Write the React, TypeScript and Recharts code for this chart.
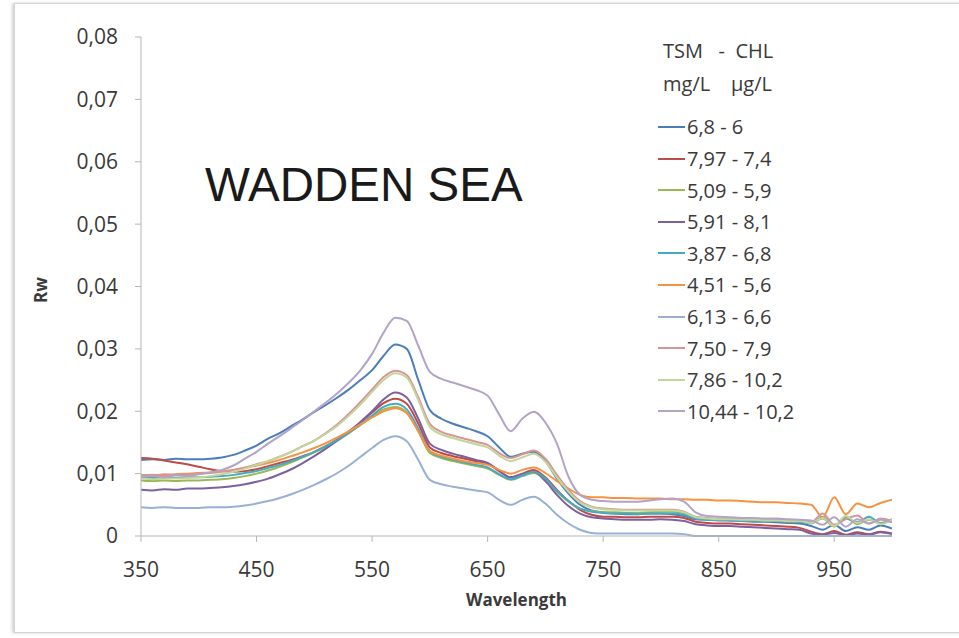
import React from "react";
import { LineChart, Line, XAxis, YAxis, Legend } from "recharts";

// wavelength (nm), one reading every 10 nm
const wavelengths = [
  350, 360, 370, 380, 390, 400, 410, 420, 430, 440, 450, 460, 470, 480, 490, 500, 510,
  520, 530, 540, 550, 560, 570, 580, 590, 600, 610, 620, 630, 640, 650, 660, 670, 680,
  690, 700, 710, 720, 730, 740, 750, 760, 770, 780, 790, 800, 810, 820, 830, 840, 850,
  860, 870, 880, 890, 900, 910, 920, 930, 940, 950, 960, 970, 980, 990, 1000,
];

const s68_6 = [
  0.0122, 0.0123, 0.0122, 0.0124, 0.0123, 0.0123, 0.0124, 0.0126, 0.013, 0.0137, 0.0145,
  0.0156, 0.0165, 0.0176, 0.0187, 0.0199, 0.021, 0.0222, 0.0235, 0.025, 0.0266, 0.0289,
  0.0307, 0.03, 0.025, 0.0202, 0.0188, 0.018, 0.0174, 0.0168, 0.016, 0.0142, 0.0127,
  0.0132, 0.0135, 0.012, 0.0092, 0.0068, 0.005, 0.0041, 0.0038, 0.0036, 0.0035, 0.0035,
  0.0036, 0.0036, 0.0035, 0.0032, 0.0027, 0.0026, 0.0025, 0.0025, 0.0024, 0.0023, 0.0023,
  0.0022, 0.0021, 0.002, 0.0016, 0.001, 0.0018, 0.0008, 0.0014, 0.001, 0.0017, 0.0012,
];
const s797_74 = [
  0.0125, 0.0124, 0.0121, 0.0118, 0.0115, 0.0111, 0.0107, 0.0104, 0.0103, 0.0104, 0.0107,
  0.0112, 0.0117, 0.0122, 0.0128, 0.0135, 0.0144, 0.0155, 0.0168, 0.0182, 0.0198, 0.0213,
  0.022, 0.0212, 0.018, 0.0142, 0.0133, 0.0128, 0.0124, 0.012, 0.0116, 0.0104, 0.0094,
  0.01, 0.0106, 0.0094, 0.0074, 0.0056, 0.0042, 0.0034, 0.0031, 0.0031, 0.003, 0.003,
  0.0031, 0.0031, 0.0031, 0.0029, 0.0023, 0.0021, 0.002, 0.002, 0.0019, 0.0018, 0.0017,
  0.0016, 0.0015, 0.0013, 0.0007, 0.0003, 0.0008, 0.0002, 0.0006, 0.0003, 0.0007, 0.0004,
];
const s509_59 = [
  0.0089, 0.0088, 0.0089, 0.0088, 0.0089, 0.0089, 0.009, 0.0091, 0.0093, 0.0096, 0.01,
  0.0105, 0.0111, 0.0118, 0.0126, 0.0134, 0.0143, 0.0153, 0.0165, 0.0178, 0.0191, 0.0203,
  0.0207, 0.0198, 0.0168, 0.0133, 0.0125, 0.012, 0.0116, 0.0112, 0.0108, 0.0098, 0.009,
  0.0096, 0.0101, 0.009, 0.0071, 0.0055, 0.0044, 0.004, 0.0038, 0.0038, 0.0037, 0.0037,
  0.0038, 0.0039, 0.0039, 0.0037, 0.0029, 0.0027, 0.0026, 0.0026, 0.0025, 0.0025, 0.0024,
  0.0024, 0.0023, 0.0023, 0.002, 0.0028, 0.0015, 0.003, 0.0019, 0.0026, 0.0021, 0.0027,
];
const s591_81 = [
  0.0074, 0.0073, 0.0075, 0.0074, 0.0076, 0.0076, 0.0077, 0.0078, 0.008, 0.0083, 0.0087,
  0.0092, 0.0099, 0.0107, 0.0117, 0.0128, 0.014, 0.0153, 0.0167, 0.0183, 0.02, 0.0219,
  0.023, 0.0222, 0.0188, 0.0148, 0.0138, 0.0132, 0.0127, 0.0122, 0.0117, 0.0105, 0.0094,
  0.0099, 0.0103, 0.0088, 0.0066, 0.0048, 0.0036, 0.003, 0.0028, 0.0027, 0.0026, 0.0026,
  0.0026, 0.0027, 0.0026, 0.0024, 0.0019, 0.0017, 0.0016, 0.0016, 0.0015, 0.0014, 0.0013,
  0.0012, 0.0011, 0.001, 0.0004, 0.0002, 0.0005, 0.0001, 0.0004, 0.0002, 0.0006, 0.0003,
];
const s387_68 = [
  0.0094, 0.0093, 0.0094, 0.0093, 0.0094, 0.0094, 0.0095, 0.0096, 0.0098, 0.0101, 0.0104,
  0.0109, 0.0114, 0.012, 0.0127, 0.0135, 0.0144, 0.0154, 0.0166, 0.0179, 0.0193, 0.0207,
  0.0212, 0.0203, 0.0172, 0.0136, 0.0127, 0.0122, 0.0118, 0.0114, 0.011, 0.0099, 0.0091,
  0.0097, 0.0103, 0.0092, 0.0072, 0.0056, 0.0044, 0.0039, 0.0037, 0.0036, 0.0036, 0.0035,
  0.0036, 0.0036, 0.0036, 0.0034, 0.0028, 0.0026, 0.0026, 0.0025, 0.0025, 0.0025, 0.0024,
  0.0024, 0.0024, 0.0023, 0.0021, 0.003, 0.0017, 0.0028, 0.0022, 0.0031, 0.002, 0.0026,
];
const s451_56 = [
  0.0097, 0.0098, 0.0097, 0.0099, 0.01, 0.0101, 0.0102, 0.0104, 0.0106, 0.0109, 0.0113,
  0.0117, 0.0122, 0.0128, 0.0134, 0.0141, 0.0149, 0.0158, 0.0168, 0.0179, 0.019, 0.02,
  0.0205, 0.0197, 0.0168, 0.0136, 0.0129, 0.0124, 0.012, 0.0117, 0.0114, 0.0106, 0.01,
  0.0106, 0.011, 0.0101, 0.0088, 0.0076, 0.0066, 0.0062, 0.0062, 0.0061, 0.0061, 0.006,
  0.006, 0.006, 0.0059, 0.0059, 0.0058, 0.0058, 0.0057, 0.0057, 0.0056, 0.0055, 0.0054,
  0.0054, 0.0053, 0.0052, 0.005, 0.003, 0.0062, 0.0035, 0.0052, 0.0046, 0.0053, 0.0058,
];
const s613_66 = [
  0.0046, 0.0045, 0.0046, 0.0045, 0.0045, 0.0045, 0.0046, 0.0046, 0.0047, 0.0049, 0.0052,
  0.0056, 0.0061, 0.0067, 0.0074, 0.0082, 0.0091, 0.0101, 0.0113, 0.0127, 0.0141, 0.0154,
  0.016, 0.0152, 0.0122, 0.009, 0.0083, 0.0079, 0.0076, 0.0073, 0.007, 0.0058, 0.005,
  0.0058, 0.0063, 0.0052, 0.0034, 0.002, 0.001, 0.0005, 0.0004, 0.0004, 0.0004, 0.0004,
  0.0004, 0.0004, 0.0004, 0.0003, 0, 0, 0, 0, 0, 0, 0,
  0, 0, 0, 0, 0, 0, 0, 0, 0, 0, 0,
];
const s750_79 = [
  0.0098, 0.0097, 0.0099, 0.0098, 0.0099, 0.01, 0.0101, 0.0103, 0.0106, 0.011, 0.0115,
  0.012, 0.0127, 0.0135, 0.0144, 0.0153, 0.0165, 0.0179, 0.0196, 0.0215, 0.0235, 0.0255,
  0.0265, 0.0258, 0.0222, 0.018, 0.0167, 0.0161, 0.0156, 0.0151, 0.0146, 0.0133, 0.0125,
  0.0131, 0.0137, 0.0124, 0.0098, 0.0074, 0.0056, 0.0047, 0.0044, 0.0043, 0.0042, 0.0042,
  0.0042, 0.0042, 0.0042, 0.0039, 0.0031, 0.0029, 0.0028, 0.0028, 0.0027, 0.0027, 0.0026,
  0.0026, 0.0025, 0.0025, 0.0022, 0.0036, 0.0018, 0.0027, 0.0033, 0.002, 0.0028, 0.0024,
];
const s786_102 = [
  0.0092, 0.0091, 0.0092, 0.0092, 0.0093, 0.0094, 0.0096, 0.0099, 0.0103, 0.0108, 0.0114,
  0.012, 0.0127, 0.0135, 0.0144, 0.0153, 0.0164, 0.0177, 0.0193, 0.0211, 0.0231, 0.025,
  0.0261, 0.0254, 0.0218, 0.0175, 0.0163, 0.0157, 0.0152, 0.0147, 0.0142, 0.0129, 0.012,
  0.0126, 0.0132, 0.0119, 0.0094, 0.0071, 0.0054, 0.0046, 0.0043, 0.0042, 0.0041, 0.0041,
  0.0041, 0.0041, 0.0041, 0.0038, 0.003, 0.0028, 0.0027, 0.0027, 0.0026, 0.0026, 0.0025,
  0.0025, 0.0024, 0.0024, 0.0021, 0.0029, 0.0016, 0.0032, 0.0021, 0.0027, 0.0019, 0.0026,
];
const s1044_102 = [
  0.0095, 0.0096, 0.0094, 0.0097, 0.0096, 0.0099, 0.0102, 0.0106, 0.0113, 0.0124, 0.0135,
  0.0148, 0.016, 0.0173, 0.0186, 0.02, 0.0214, 0.0229, 0.0246, 0.0266, 0.0292, 0.0326,
  0.035, 0.0345, 0.0305, 0.0263, 0.0252, 0.0246, 0.024, 0.0234, 0.0225, 0.0195, 0.0168,
  0.0188, 0.0199, 0.0182, 0.0148, 0.0095, 0.0066, 0.0058, 0.0056, 0.0055, 0.0055, 0.0055,
  0.0057, 0.0059, 0.006, 0.0055, 0.0038, 0.0032, 0.0031, 0.003, 0.0029, 0.0029, 0.0028,
  0.0028, 0.0027, 0.0026, 0.0025, 0.0018, 0.003, 0.0015, 0.0027, 0.002, 0.0026, 0.0022,
];

const seriesNames = [
  "6,8 - 6",
  "7,97 - 7,4",
  "5,09 - 5,9",
  "5,91 - 8,1",
  "3,87 - 6,8",
  "4,51 - 5,6",
  "6,13 - 6,6",
  "7,50 - 7,9",
  "7,86 - 10,2",
  "10,44 - 10,2",
];
const seriesValues = [
  s68_6, s797_74, s509_59, s591_81, s387_68, s451_56, s613_66, s750_79, s786_102, s1044_102,
];
const colors = [
  "#4a7ebb", "#be4b48", "#98b954", "#7d60a0", "#46aac5",
  "#f69240", "#98b0d6", "#d89593", "#c2d59a", "#b2a3c8",
];

const xTicks = [350, 450, 550, 650, 750, 850, 950];
const yTicks = [0, 0.01, 0.02, 0.03, 0.04, 0.05, 0.06, 0.07, 0.08];

const rows = wavelengths.map((w, i) => {
  const r: Record<string, number> = { w };
  seriesValues.forEach((vals, k) => {
    r["s" + k] = vals[i];
  });
  return r;
});

const FONT = "'Open Sans', 'Liberation Sans', sans-serif";
const TEXT = "#3a3a3a";

function fmtY(v: number) {
  if (v === 0) return "0";
  return v.toFixed(2).replace(".", ",");
}

// keeps the series order of the original (recharts would sort by name)
function LegendBox() {
  return (
    <div style={{ fontFamily: FONT, fontSize: 20, color: TEXT }}>
      <div style={{ height: 33, lineHeight: "33px", paddingLeft: 7, whiteSpace: "pre" }}>
        {"TSM   -  CHL"}
      </div>
      <div style={{ height: 33, lineHeight: "33px", paddingLeft: 7, whiteSpace: "pre" }}>
        {"mg/L    µg/L"}
      </div>
      <div style={{ height: 11.7 }} />
      {seriesNames.map((name, k) => (
        <div
          key={name}
          style={{ height: 31.6, display: "flex", alignItems: "center", paddingLeft: 2 }}
        >
          <span
            style={{ display: "inline-block", width: 27, height: 2, background: colors[k], marginRight: 2 }}
          />
          <span>{name}</span>
        </div>
      ))}
    </div>
  );
}

export default function App() {
  return (
    <div
      style={{
        position: "fixed",
        left: 0,
        top: 0,
        width: 959,
        height: 638,
        background: "#fff",
        overflow: "hidden",
      }}
    >
      <div
        style={{
          position: "absolute",
          left: 14,
          top: 3,
          width: 960,
          height: 628,
          border: "1px solid #d4d4d4",
          boxShadow: "-2px 0 3px rgba(0,0,0,0.18)",
          background: "#fff",
        }}
      />
      <div style={{ position: "absolute", left: 0, top: 0 }}>
        <LineChart
          width={959}
          height={638}
          data={rows}
          margin={{ top: 37, right: 67, bottom: 22, left: 0 }}
        >
          <XAxis
            dataKey="w"
            type="number"
            domain={[350, 1000]}
            ticks={xTicks}
            allowDataOverflow
            height={80}
            tickSize={6}
            tickMargin={20}
            stroke="#b5b5b5"
            tick={{ fill: TEXT, fontSize: 21, fontFamily: FONT }}
            label={{
              value: "Wavelength",
              position: "insideBottom",
              offset: 10,
              style: { fill: TEXT, fontSize: 17, fontWeight: 700, fontFamily: FONT },
            }}
          />
          <YAxis
            type="number"
            domain={[0, 0.08]}
            ticks={yTicks}
            width={141}
            tickSize={6}
            tickMargin={17}
            stroke="#b5b5b5"
            tickFormatter={fmtY}
            tick={{ fill: TEXT, fontSize: 21, fontFamily: FONT }}
          />
          <Legend
            layout="vertical"
            align="center"
            verticalAlign="middle"
            content={<LegendBox />}
            wrapperStyle={{ left: 656, top: 33.5, width: 220, height: 400 }}
          />
          {seriesNames.map((name, k) => (
            <Line
              key={name}
              dataKey={"s" + k}
              name={name}
              type="monotone"
              stroke={colors[k]}
              strokeWidth={2}
              dot={false}
              activeDot={false}
              isAnimationActive={false}
            />
          ))}
        </LineChart>
      </div>
      <div
        style={{
          position: "absolute",
          left: 205,
          top: 161,
          fontFamily: "'Liberation Sans', Arial, sans-serif",
          fontSize: 47.5,
          lineHeight: "47px",
          color: "#1a1a1a",
          whiteSpace: "nowrap",
        }}
      >
        WADDEN SEA
      </div>
      <div
        style={{
          position: "absolute",
          left: 40,
          top: 290,
          transform: "translate(-50%, -50%) rotate(-90deg)",
          fontFamily: FONT,
          fontSize: 17,
          fontWeight: 700,
          color: TEXT,
        }}
      >
        Rw
      </div>
    </div>
  );
}
